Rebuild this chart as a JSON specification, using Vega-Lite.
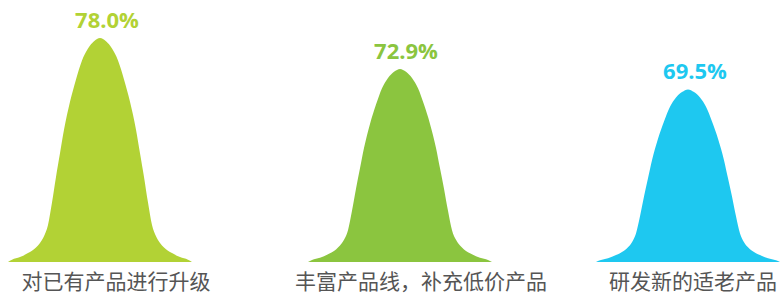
{
  "$schema": "https://vega.github.io/schema/vega-lite/v6.json",
  "padding": {"left": 8, "top": 0, "right": 0, "bottom": 0},
  "bounds": "flush",
  "background": "white",
  "spacing": 104,
  "data": {"values": [
    {"c": "对已有产品进行升级", "p": "s", "t": -92, "y": 41},
    {"c": "对已有产品进行升级", "p": "s", "t": -88, "y": 41.37},
    {"c": "对已有产品进行升级", "p": "s", "t": -80, "y": 41.81},
    {"c": "对已有产品进行升级", "p": "s", "t": -72, "y": 42.48},
    {"c": "对已有产品进行升级", "p": "s", "t": -64, "y": 43.41},
    {"c": "对已有产品进行升级", "p": "s", "t": -60, "y": 44.15},
    {"c": "对已有产品进行升级", "p": "s", "t": -56, "y": 45.26},
    {"c": "对已有产品进行升级", "p": "s", "t": -52, "y": 47.11},
    {"c": "对已有产品进行升级", "p": "s", "t": -48, "y": 50.81},
    {"c": "对已有产品进行升级", "p": "s", "t": -44, "y": 55.06},
    {"c": "对已有产品进行升级", "p": "s", "t": -40, "y": 58.95},
    {"c": "对已有产品进行升级", "p": "s", "t": -36, "y": 62.83},
    {"c": "对已有产品进行升级", "p": "s", "t": -30, "y": 67.46},
    {"c": "对已有产品进行升级", "p": "s", "t": -24, "y": 71.16},
    {"c": "对已有产品进行升级", "p": "s", "t": -18, "y": 74.3},
    {"c": "对已有产品进行升级", "p": "s", "t": -12, "y": 76.26},
    {"c": "对已有产品进行升级", "p": "s", "t": -6, "y": 77.45},
    {"c": "对已有产品进行升级", "p": "s", "t": 0, "y": 78},
    {"c": "对已有产品进行升级", "p": "s", "t": 6, "y": 77.45},
    {"c": "对已有产品进行升级", "p": "s", "t": 12, "y": 76.26},
    {"c": "对已有产品进行升级", "p": "s", "t": 18, "y": 74.3},
    {"c": "对已有产品进行升级", "p": "s", "t": 24, "y": 71.16},
    {"c": "对已有产品进行升级", "p": "s", "t": 30, "y": 67.46},
    {"c": "对已有产品进行升级", "p": "s", "t": 36, "y": 62.83},
    {"c": "对已有产品进行升级", "p": "s", "t": 40, "y": 58.95},
    {"c": "对已有产品进行升级", "p": "s", "t": 44, "y": 55.06},
    {"c": "对已有产品进行升级", "p": "s", "t": 48, "y": 50.81},
    {"c": "对已有产品进行升级", "p": "s", "t": 52, "y": 47.11},
    {"c": "对已有产品进行升级", "p": "s", "t": 56, "y": 45.26},
    {"c": "对已有产品进行升级", "p": "s", "t": 60, "y": 44.15},
    {"c": "对已有产品进行升级", "p": "s", "t": 64, "y": 43.41},
    {"c": "对已有产品进行升级", "p": "s", "t": 72, "y": 42.48},
    {"c": "对已有产品进行升级", "p": "s", "t": 80, "y": 41.81},
    {"c": "对已有产品进行升级", "p": "s", "t": 88, "y": 41.37},
    {"c": "对已有产品进行升级", "p": "s", "t": 92, "y": 41},
    {"c": "丰富产品线，补充低价产品", "p": "s", "t": -92, "y": 41},
    {"c": "丰富产品线，补充低价产品", "p": "s", "t": -88, "y": 41.32},
    {"c": "丰富产品线，补充低价产品", "p": "s", "t": -80, "y": 41.7},
    {"c": "丰富产品线，补充低价产品", "p": "s", "t": -72, "y": 42.28},
    {"c": "丰富产品线，补充低价产品", "p": "s", "t": -64, "y": 43.07},
    {"c": "丰富产品线，补充低价产品", "p": "s", "t": -60, "y": 43.71},
    {"c": "丰富产品线，补充低价产品", "p": "s", "t": -56, "y": 44.67},
    {"c": "丰富产品线，补充低价产品", "p": "s", "t": -52, "y": 46.26},
    {"c": "丰富产品线，补充低价产品", "p": "s", "t": -48, "y": 49.45},
    {"c": "丰富产品线，补充低价产品", "p": "s", "t": -44, "y": 53.12},
    {"c": "丰富产品线，补充低价产品", "p": "s", "t": -40, "y": 56.47},
    {"c": "丰富产品线，补充低价产品", "p": "s", "t": -36, "y": 59.82},
    {"c": "丰富产品线，补充低价产品", "p": "s", "t": -30, "y": 63.81},
    {"c": "丰富产品线，补充低价产品", "p": "s", "t": -24, "y": 67.0},
    {"c": "丰富产品线，补充低价产品", "p": "s", "t": -18, "y": 69.71},
    {"c": "丰富产品线，补充低价产品", "p": "s", "t": -12, "y": 71.4},
    {"c": "丰富产品线，补充低价产品", "p": "s", "t": -6, "y": 72.42},
    {"c": "丰富产品线，补充低价产品", "p": "s", "t": 0, "y": 72.9},
    {"c": "丰富产品线，补充低价产品", "p": "s", "t": 6, "y": 72.42},
    {"c": "丰富产品线，补充低价产品", "p": "s", "t": 12, "y": 71.4},
    {"c": "丰富产品线，补充低价产品", "p": "s", "t": 18, "y": 69.71},
    {"c": "丰富产品线，补充低价产品", "p": "s", "t": 24, "y": 67.0},
    {"c": "丰富产品线，补充低价产品", "p": "s", "t": 30, "y": 63.81},
    {"c": "丰富产品线，补充低价产品", "p": "s", "t": 36, "y": 59.82},
    {"c": "丰富产品线，补充低价产品", "p": "s", "t": 40, "y": 56.47},
    {"c": "丰富产品线，补充低价产品", "p": "s", "t": 44, "y": 53.12},
    {"c": "丰富产品线，补充低价产品", "p": "s", "t": 48, "y": 49.45},
    {"c": "丰富产品线，补充低价产品", "p": "s", "t": 52, "y": 46.26},
    {"c": "丰富产品线，补充低价产品", "p": "s", "t": 56, "y": 44.67},
    {"c": "丰富产品线，补充低价产品", "p": "s", "t": 60, "y": 43.71},
    {"c": "丰富产品线，补充低价产品", "p": "s", "t": 64, "y": 43.07},
    {"c": "丰富产品线，补充低价产品", "p": "s", "t": 72, "y": 42.28},
    {"c": "丰富产品线，补充低价产品", "p": "s", "t": 80, "y": 41.7},
    {"c": "丰富产品线，补充低价产品", "p": "s", "t": 88, "y": 41.32},
    {"c": "丰富产品线，补充低价产品", "p": "s", "t": 92, "y": 41},
    {"c": "研发新的适老产品", "p": "s", "t": -92, "y": 41},
    {"c": "研发新的适老产品", "p": "s", "t": -88, "y": 41.29},
    {"c": "研发新的适老产品", "p": "s", "t": -80, "y": 41.63},
    {"c": "研发新的适老产品", "p": "s", "t": -72, "y": 42.14},
    {"c": "研发新的适老产品", "p": "s", "t": -64, "y": 42.85},
    {"c": "研发新的适老产品", "p": "s", "t": -60, "y": 43.42},
    {"c": "研发新的适老产品", "p": "s", "t": -56, "y": 44.28},
    {"c": "研发新的适老产品", "p": "s", "t": -52, "y": 45.7},
    {"c": "研发新的适老产品", "p": "s", "t": -48, "y": 48.55},
    {"c": "研发新的适老产品", "p": "s", "t": -44, "y": 51.83},
    {"c": "研发新的适老产品", "p": "s", "t": -40, "y": 54.82},
    {"c": "研发新的适老产品", "p": "s", "t": -36, "y": 57.82},
    {"c": "研发新的适老产品", "p": "s", "t": -30, "y": 61.38},
    {"c": "研发新的适老产品", "p": "s", "t": -24, "y": 64.23},
    {"c": "研发新的适老产品", "p": "s", "t": -18, "y": 66.65},
    {"c": "研发新的适老产品", "p": "s", "t": -12, "y": 68.16},
    {"c": "研发新的适老产品", "p": "s", "t": -6, "y": 69.07},
    {"c": "研发新的适老产品", "p": "s", "t": 0, "y": 69.5},
    {"c": "研发新的适老产品", "p": "s", "t": 6, "y": 69.07},
    {"c": "研发新的适老产品", "p": "s", "t": 12, "y": 68.16},
    {"c": "研发新的适老产品", "p": "s", "t": 18, "y": 66.65},
    {"c": "研发新的适老产品", "p": "s", "t": 24, "y": 64.23},
    {"c": "研发新的适老产品", "p": "s", "t": 30, "y": 61.38},
    {"c": "研发新的适老产品", "p": "s", "t": 36, "y": 57.82},
    {"c": "研发新的适老产品", "p": "s", "t": 40, "y": 54.82},
    {"c": "研发新的适老产品", "p": "s", "t": 44, "y": 51.83},
    {"c": "研发新的适老产品", "p": "s", "t": 48, "y": 48.55},
    {"c": "研发新的适老产品", "p": "s", "t": 52, "y": 45.7},
    {"c": "研发新的适老产品", "p": "s", "t": 56, "y": 44.28},
    {"c": "研发新的适老产品", "p": "s", "t": 60, "y": 43.42},
    {"c": "研发新的适老产品", "p": "s", "t": 64, "y": 42.85},
    {"c": "研发新的适老产品", "p": "s", "t": 72, "y": 42.14},
    {"c": "研发新的适老产品", "p": "s", "t": 80, "y": 41.63},
    {"c": "研发新的适老产品", "p": "s", "t": 88, "y": 41.29},
    {"c": "研发新的适老产品", "p": "s", "t": 92, "y": 41},
    {"c": "对已有产品进行升级", "p": "v", "t": 0, "y": 78.0, "label": "78.0%"},
    {"c": "丰富产品线，补充低价产品", "p": "v", "t": 0, "y": 72.9, "label": "72.9%"},
    {"c": "研发新的适老产品", "p": "v", "t": 0, "y": 69.5, "label": "69.5%"}
  ]},
  "hconcat": [
    {
      "width": 184, "height": 262,
      "transform": [{"filter": "datum.c === '对已有产品进行升级'"}],
      "layer": [
        {
          "transform": [{"filter": "datum.p === 's'"}],
          "mark": {"type": "area", "interpolate": "monotone", "color": "#B2D235"},
          "encoding": {
            "x": {"field": "t", "type": "quantitative", "scale": {"domain": [-92, 92], "nice": false}, "axis": null},
            "y": {"field": "y", "type": "quantitative", "scale": {"domain": [41, 84.28], "nice": false, "zero": false}, "axis": null},
            "y2": {"datum": 41}
          }
        },
        {
          "transform": [{"filter": "datum.p === 'v'"}],
          "mark": {"type": "text", "font": "Open Sans", "fontWeight": "bold", "fontSize": 22, "baseline": "alphabetic", "dy": -10, "dx": 7, "color": "#B2D235"},
          "encoding": {
            "x": {"field": "t", "type": "quantitative"},
            "y": {"field": "y", "type": "quantitative"},
            "text": {"field": "label"}
          }
        },
        {
          "transform": [{"filter": "datum.p === 'v'"}],
          "mark": {"type": "text", "font": "Noto Sans CJK SC", "fontSize": 21, "baseline": "middle", "dy": 21, "dx": 16, "color": "#555555"},
          "encoding": {
            "x": {"field": "t", "type": "quantitative"},
            "y": {"datum": 41},
            "text": {"field": "c"}
          }
        }
      ]
    },
    {
      "width": 196, "height": 262,
      "transform": [{"filter": "datum.c === '丰富产品线，补充低价产品'"}],
      "layer": [
        {
          "transform": [{"filter": "datum.p === 's'"}],
          "mark": {"type": "area", "interpolate": "monotone", "color": "#8BC53F"},
          "encoding": {
            "x": {"field": "t", "type": "quantitative", "scale": {"domain": [-104, 92], "nice": false}, "axis": null},
            "y": {"field": "y", "type": "quantitative", "scale": {"domain": [41, 84.28], "nice": false, "zero": false}, "axis": null},
            "y2": {"datum": 41}
          }
        },
        {
          "transform": [{"filter": "datum.p === 'v'"}],
          "mark": {"type": "text", "font": "Open Sans", "fontWeight": "bold", "fontSize": 22, "baseline": "alphabetic", "dy": -10, "dx": 6, "color": "#8BC53F"},
          "encoding": {
            "x": {"field": "t", "type": "quantitative"},
            "y": {"field": "y", "type": "quantitative"},
            "text": {"field": "label"}
          }
        },
        {
          "transform": [{"filter": "datum.p === 'v'"}],
          "mark": {"type": "text", "font": "Noto Sans CJK SC", "fontSize": 21, "baseline": "middle", "dy": 21, "dx": 21, "color": "#555555"},
          "encoding": {
            "x": {"field": "t", "type": "quantitative"},
            "y": {"datum": 41},
            "text": {"field": "c"}
          }
        }
      ]
    },
    {
      "width": 184, "height": 262,
      "transform": [{"filter": "datum.c === '研发新的适老产品'"}],
      "layer": [
        {
          "transform": [{"filter": "datum.p === 's'"}],
          "mark": {"type": "area", "interpolate": "monotone", "color": "#1EC8F0"},
          "encoding": {
            "x": {"field": "t", "type": "quantitative", "scale": {"domain": [-92, 92], "nice": false}, "axis": null},
            "y": {"field": "y", "type": "quantitative", "scale": {"domain": [41, 84.28], "nice": false, "zero": false}, "axis": null},
            "y2": {"datum": 41}
          }
        },
        {
          "transform": [{"filter": "datum.p === 'v'"}],
          "mark": {"type": "text", "font": "Open Sans", "fontWeight": "bold", "fontSize": 22, "baseline": "alphabetic", "dy": -10, "dx": 7, "color": "#1EC8F0"},
          "encoding": {
            "x": {"field": "t", "type": "quantitative"},
            "y": {"field": "y", "type": "quantitative"},
            "text": {"field": "label"}
          }
        },
        {
          "transform": [{"filter": "datum.p === 'v'"}],
          "mark": {"type": "text", "font": "Noto Sans CJK SC", "fontSize": 21, "baseline": "middle", "dy": 21, "dx": 5, "color": "#555555"},
          "encoding": {
            "x": {"field": "t", "type": "quantitative"},
            "y": {"datum": 41},
            "text": {"field": "c"}
          }
        }
      ]
    }
  ],
  "config": {"view": {"stroke": null}}
}
